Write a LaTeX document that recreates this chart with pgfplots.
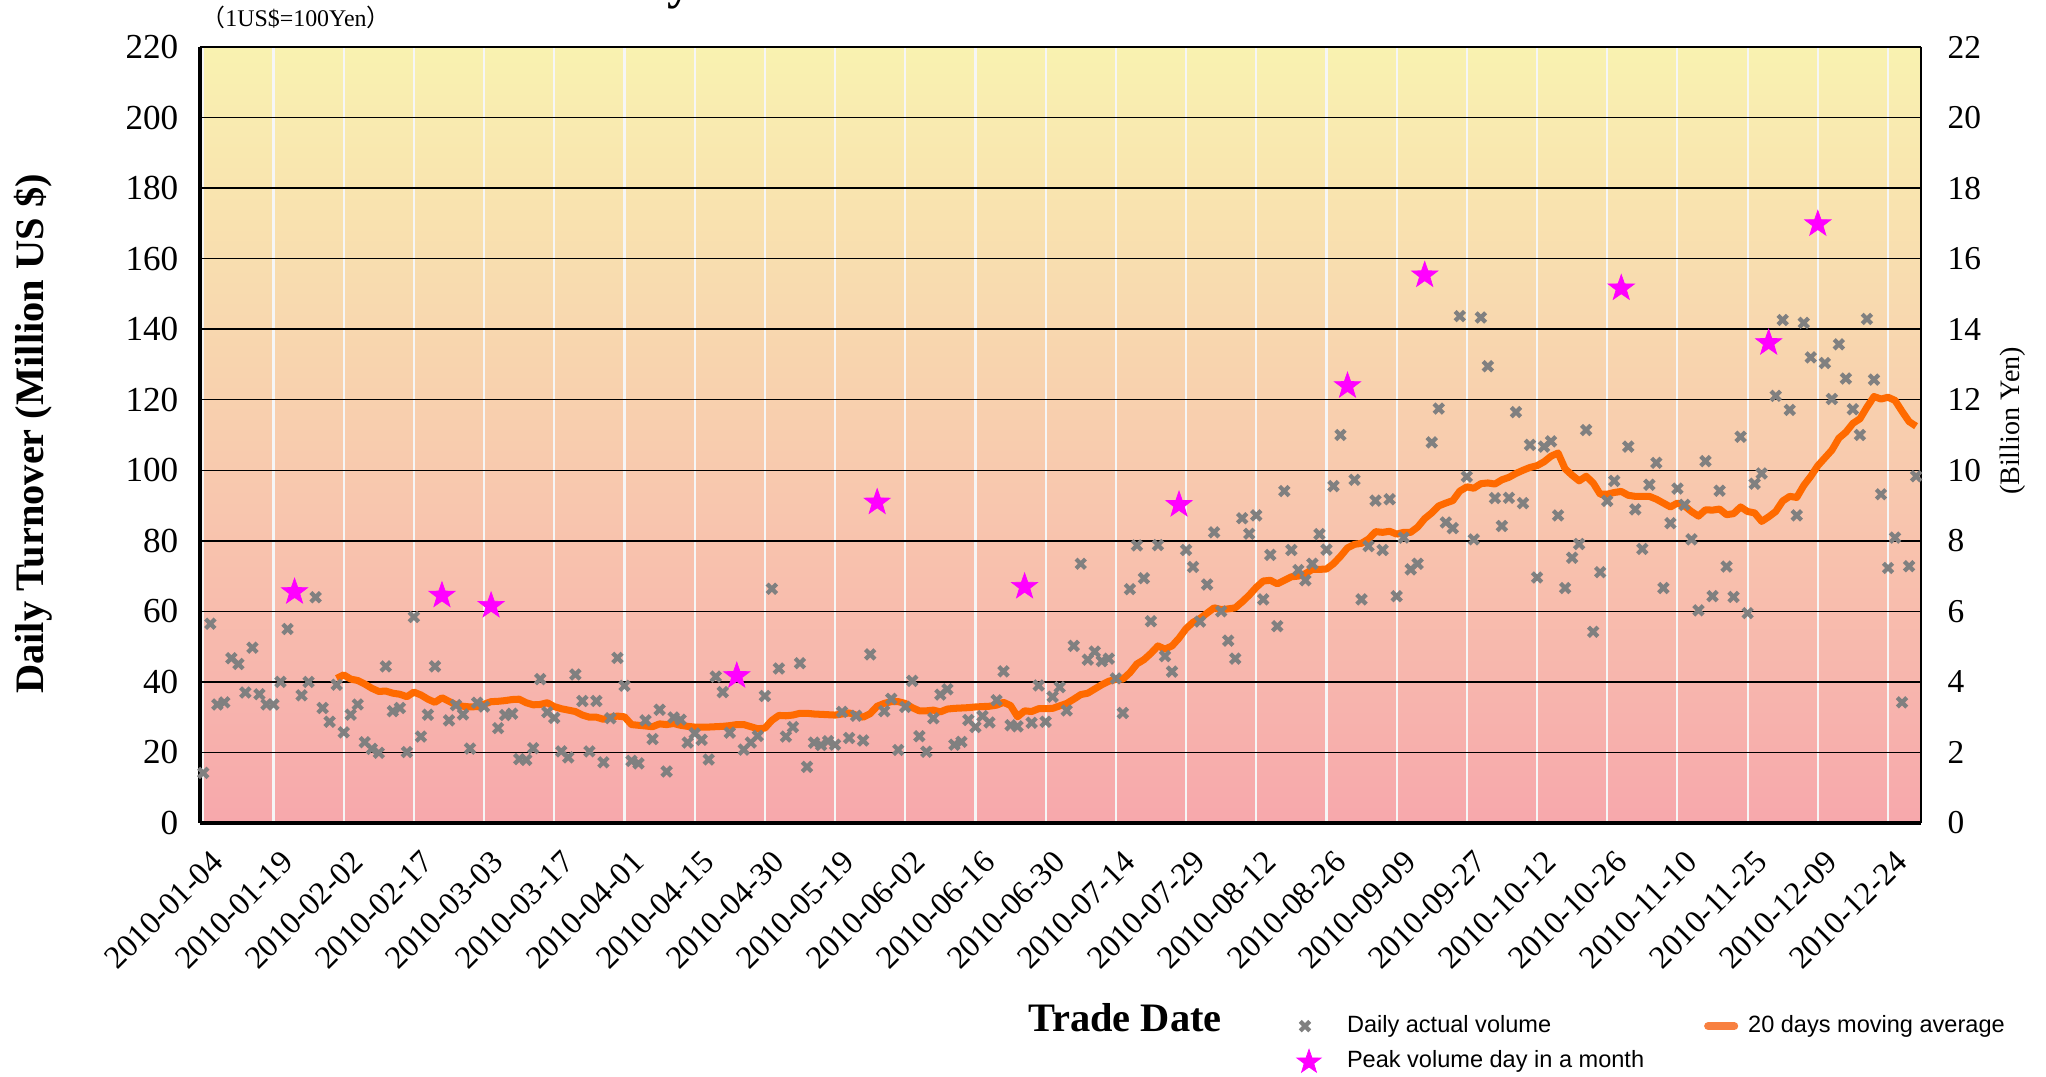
\documentclass[border=0pt]{standalone}
\usepackage{pgfplots}
\pgfplotsset{compat=1.18}
\usepackage{fontspec}
\setmainfont{Liberation Serif}
\newfontfamily\legfont{Liberation Sans}
\newfontfamily\cjk{Noto Sans CJK JP}
\definecolor{starmag}{RGB}{255,0,255}
\definecolor{maorange}{RGB}{255,106,0}
\definecolor{legorange}{RGB}{248,128,64}
\definecolor{dgray}{RGB}{128,128,128}
\definecolor{bgtop}{RGB}{249,242,176}
\definecolor{bgbot}{RGB}{247,168,172}
\definecolor{vgrid}{RGB}{246,246,246}

\pgfdeclareplotmark{fstar}{%
  \pgfpathmoveto{\pgfpointpolar{90}{\pgfplotmarksize}}%
  \pgfpathlineto{\pgfpointpolar{126}{0.4*\pgfplotmarksize}}%
  \pgfpathlineto{\pgfpointpolar{162}{\pgfplotmarksize}}%
  \pgfpathlineto{\pgfpointpolar{198}{0.4*\pgfplotmarksize}}%
  \pgfpathlineto{\pgfpointpolar{234}{\pgfplotmarksize}}%
  \pgfpathlineto{\pgfpointpolar{270}{0.4*\pgfplotmarksize}}%
  \pgfpathlineto{\pgfpointpolar{306}{\pgfplotmarksize}}%
  \pgfpathlineto{\pgfpointpolar{342}{0.4*\pgfplotmarksize}}%
  \pgfpathlineto{\pgfpointpolar{18}{\pgfplotmarksize}}%
  \pgfpathlineto{\pgfpointpolar{54}{0.4*\pgfplotmarksize}}%
  \pgfpathclose
  \pgfusepathqfillstroke
}

\pgfplotsset{
  legdaily/.style={legend image code/.code={\path[draw=none,fill=none] (0cm,-0.1cm) rectangle (0.47cm,0.1cm); \draw[##1] plot coordinates {(0.05cm,0cm)};}},
  legma/.style={legend image code/.code={\path[draw=none,fill=none] (0cm,-0.1cm) rectangle (0.43cm,0.1cm); \draw[##1, line width=2.3pt, line cap=round, color=legorange] (0.03cm,0cm) -- (0.29cm,0cm);}},
  legstar/.style={legend image code/.code={\path[draw=none,fill=none] (0cm,-0.1cm) rectangle (0.47cm,0.1cm); \draw[##1, mark size=3.6pt] plot coordinates {(0.09cm,0cm)};}},
}

\begin{document}
\begin{tikzpicture}
\begin{axis}[
  at={(2cm,2.54cm)}, anchor=south west,
  scale only axis, width=17.21cm, height=7.76cm,
  xmin=-0.47, xmax=244.7, ymin=0, ymax=220,
  axis line style={draw=none},
  tick style={draw=none},
  major tick length=0pt,
  xtick={0,10,...,240},
  xticklabels={2010-01-04,2010-01-19,2010-02-02,2010-02-17,2010-03-03,2010-03-17,2010-04-01,2010-04-15,2010-04-30,2010-05-19,2010-06-02,2010-06-16,2010-06-30,2010-07-14,2010-07-29,2010-08-12,2010-08-26,2010-09-09,2010-09-27,2010-10-12,2010-10-26,2010-11-10,2010-11-25,2010-12-09,2010-12-24},
  ytick={0,20,...,220},
  grid=major,
  x grid style={color=vgrid, line width=0.6pt},
  y grid style={color=black, line width=0.4pt},
  axis background/.style={top color=bgtop, bottom color=bgbot},
  tick label style={font=\fontsize{10}{12}\selectfont},
  /pgf/number format/assume math mode=true,
  yticklabel style={anchor=east, inner sep=0pt, xshift=-0.21cm},
  xticklabel style={xshift=0.06cm, yshift=-0.25cm, rotate=45, anchor=north east, inner sep=0pt, font=\fontsize{9.2}{11}\selectfont},
  clip=false,
  legend columns=2,
  legend cell align=left,
  legend style={draw=none, fill=none, inner sep=0pt, outer sep=0pt,
    at={(axis description cs:0.6374,-0.2474)}, anchor=north west,
    font=\legfont\fontsize{6.7}{8}\selectfont,
    nodes={inner sep=0pt},
    row sep=0.12cm,
    /tikz/every even column/.append style={column sep=0.60cm}},
]
\addplot[only marks, mark=x, mark size=1.9pt, color=dgray, line width=1.2pt, legdaily]
coordinates {
(0,14.2)(1,56.5)(2,33.6)(3,34.2)(4,46.7)(5,45.1)(6,37.0)(7,49.7)(8,36.5)(9,33.6)
(10,33.6)(11,40.0)(12,55.0)(14,36.2)(15,40.0)(16,64.0)(17,32.6)(18,28.7)(19,39.2)
(20,25.7)(21,30.7)(22,33.6)(23,22.9)(24,21.0)(25,19.9)(26,44.4)(27,31.7)(28,32.6)(29,20.1)
(30,58.4)(31,24.5)(32,30.7)(33,44.4)(35,29.1)(36,33.4)(37,30.8)(38,21.1)(39,34.1)
(40,33.0)(42,26.9)(43,30.6)(44,31.0)(45,18.1)(46,17.9)(47,21.2)(48,40.8)(49,31.4)
(50,29.8)(51,20.3)(52,18.6)(53,42.1)(54,34.6)(55,20.3)(56,34.6)(57,17.2)(58,29.7)(59,46.8)
(60,38.9)(61,17.6)(62,16.9)(63,29.1)(64,23.8)(65,32.1)(66,14.6)(67,29.9)(68,29.3)(69,22.8)
(70,25.4)(71,23.6)(72,18.0)(73,41.5)(74,37.1)(75,25.6)(77,20.8)(78,22.8)(79,24.7)
(80,36.0)(81,66.4)(82,43.8)(83,24.5)(84,27.2)(85,45.3)(86,15.9)(87,22.8)(88,22.1)(89,23.2)
(90,22.2)(91,31.5)(92,24.1)(93,30.4)(94,23.4)(95,47.8)(97,31.7)(98,35.2)(99,20.7)
(100,32.9)(101,40.3)(102,24.6)(103,20.2)(104,29.7)(105,36.4)(106,37.9)(107,22.2)(108,23.0)(109,29.2)
(110,27.2)(111,30.3)(112,28.5)(113,34.8)(114,43.0)(115,27.7)(116,27.4)(118,28.4)(119,39.0)
(120,28.7)(121,35.8)(122,38.5)(123,31.9)(124,50.2)(125,73.5)(126,46.3)(127,48.6)(128,45.9)(129,46.6)
(130,41.0)(131,31.2)(132,66.3)(133,78.7)(134,69.4)(135,57.2)(136,78.8)(137,47.3)(138,42.9)
(140,77.4)(141,72.6)(142,57.1)(143,67.6)(144,82.4)(145,60.0)(146,51.7)(147,46.6)(148,86.4)(149,82.0)
(150,87.2)(151,63.4)(152,76.0)(153,55.8)(154,94.1)(155,77.4)(156,71.7)(157,68.8)(158,73.5)(159,81.9)
(160,77.5)(161,95.5)(162,110.0)(164,97.3)(165,63.4)(166,78.5)(167,91.4)(168,77.4)(169,91.8)
(170,64.3)(171,80.9)(172,71.9)(173,73.5)(175,107.9)(176,117.5)(177,85.2)(178,83.6)(179,143.7)
(180,98.2)(181,80.4)(182,143.3)(183,129.5)(184,92.1)(185,84.2)(186,92.2)(187,116.5)(188,90.7)(189,107.2)
(190,69.6)(191,106.7)(192,108.2)(193,87.2)(194,66.6)(195,75.2)(196,79.1)(197,111.4)(198,54.2)(199,71.1)
(200,91.3)(201,97.0)(203,106.7)(204,88.9)(205,77.7)(206,95.9)(207,102.1)(208,66.6)(209,85.0)
(210,94.8)(211,90.2)(212,80.4)(213,60.3)(214,102.6)(215,64.3)(216,94.2)(217,72.7)(218,64.1)(219,109.5)
(220,59.5)(221,96.2)(222,99.1)(224,121.1)(225,142.6)(226,117.1)(227,87.2)(228,141.8)(229,132.0)
(231,130.4)(232,120.2)(233,135.7)(234,126.0)(235,117.3)(236,110.0)(237,142.9)(238,125.7)(239,93.2)
(240,72.3)(241,80.9)(242,34.2)(243,72.8)(244,98.3)
};
\addlegendentry{Daily actual volume}
\addplot[color=maorange, line width=2pt, line join=round, mark=none, legma]
coordinates {
(19,41.0)(20,42.0)(21,40.8)(22,40.4)(23,39.4)(24,38.2)(25,37.3)(26,37.4)(27,36.8)(28,36.5)(29,35.8)
(30,37.1)(31,36.3)(32,35.1)(33,34.2)(34,35.5)(35,34.5)(36,33.5)(37,33.1)(38,32.9)(39,33.0)
(40,33.7)(41,34.4)(42,34.5)(43,34.7)(44,35.0)(45,35.1)(46,34.1)(47,33.5)(48,33.6)(49,34.1)
(50,33.0)(51,32.4)(52,32.0)(53,31.6)(54,30.6)(55,30.0)(56,30.0)(57,29.4)(58,30.0)(59,30.3)
(60,30.1)(61,27.9)(62,27.7)(63,27.5)(64,27.3)(65,28.1)(66,27.9)(67,28.2)(68,27.7)(69,27.4)
(70,27.2)(71,27.2)(72,27.2)(73,27.3)(74,27.4)(75,27.6)(76,27.9)(77,27.9)(78,27.3)(79,26.7)
(80,26.9)(81,29.1)(82,30.5)(83,30.4)(84,30.6)(85,31.1)(86,31.1)(87,30.9)(88,30.8)(89,30.7)
(90,30.6)(91,30.9)(92,31.2)(93,30.6)(94,30.0)(95,31.0)(96,33.1)(97,33.9)(98,34.4)(99,34.4)
(100,33.9)(101,32.7)(102,31.8)(103,31.8)(104,32.0)(105,31.5)(106,32.3)(107,32.5)(108,32.6)(109,32.7)
(110,32.9)(111,33.0)(112,33.1)(113,33.4)(114,34.2)(115,33.3)(116,30.1)(117,31.8)(118,31.6)(119,32.4)
(120,32.4)(121,32.5)(122,33.2)(123,33.9)(124,35.1)(125,36.4)(126,36.8)(127,38.0)(128,39.2)(129,40.2)
(130,40.7)(131,40.8)(132,42.6)(133,45.1)(134,46.3)(135,48.1)(136,50.2)(137,49.3)(138,50.2)(139,52.4)
(140,55.1)(141,56.9)(142,58.0)(143,59.5)(144,61.0)(145,60.5)(146,60.7)(147,61.0)(148,62.7)(149,64.6)
(150,66.8)(151,68.6)(152,68.8)(153,67.8)(154,68.8)(155,69.8)(156,70.0)(157,70.7)(158,71.9)(159,71.9)
(160,72.0)(161,73.5)(162,75.6)(163,78.0)(164,79.0)(165,79.3)(166,80.5)(167,82.6)(168,82.4)(169,82.7)
(170,81.9)(171,82.4)(172,82.4)(173,83.9)(174,86.3)(175,87.9)(176,89.9)(177,90.7)(178,91.4)(179,94.1)
(180,95.3)(181,94.9)(182,96.2)(183,96.4)(184,96.1)(185,97.3)(186,98.0)(187,99.1)(188,100.0)(189,100.8)
(190,101.3)(191,102.4)(192,104.0)(193,104.9)(194,100.4)(195,98.6)(196,97.0)(197,98.3)(198,96.4)(199,93.2)
(200,93.2)(201,93.7)(202,94.0)(203,92.9)(204,92.6)(205,92.6)(206,92.6)(207,91.8)(208,90.7)(209,89.6)
(210,90.7)(211,89.9)(212,88.3)(213,87.0)(214,88.8)(215,88.7)(216,89.0)(217,87.4)(218,87.7)(219,89.6)
(220,88.3)(221,87.9)(222,85.5)(223,86.8)(224,88.3)(225,91.3)(226,92.6)(227,92.3)(228,95.7)(229,98.3)
(230,101.3)(231,103.5)(232,105.7)(233,109.1)(234,110.8)(235,113.3)(236,114.6)(237,117.9)(238,120.9)(239,120.2)
(240,120.7)(241,119.8)(242,116.7)(243,113.8)(244,112.5)
};
\addlegendentry{20 days moving average}
\addplot[only marks, mark=fstar, mark size=3.9pt, color=starmag, line width=0.2pt, legstar]
coordinates {
(13,65.5)(34,64.5)(41,61.6)(76,41.7)(96,90.9)(117,67.0)(139,90.2)(163,123.9)(174,155.3)(202,151.6)(223,136.1)(230,169.8)
};
\addlegendentry{Peak volume day in a month}
\draw[black, line width=0.95pt] (rel axis cs:0,0) -- (rel axis cs:0,1);
\draw[black, line width=0.95pt] (rel axis cs:0,0) -- (rel axis cs:1,0);
\draw[black, line width=0.6pt] (rel axis cs:1,0) -- (rel axis cs:1,1);
\end{axis}
\begin{axis}[
  at={(2cm,2.54cm)}, anchor=south west,
  scale only axis, width=17.21cm, height=7.76cm,
  xmin=-0.47, xmax=244.7, ymin=0, ymax=22,
  axis line style={draw=none}, tick style={draw=none}, major tick length=0pt,
  xtick=\empty, ytick={0,2,...,22},
  yticklabel pos=right,
  /pgf/number format/assume math mode=true,
  yticklabel style={anchor=west, inner sep=0pt, xshift=0.26cm, font=\fontsize{9.5}{11}\selectfont},
]
\addplot[draw=none, forget plot] coordinates {(0,0)};
\end{axis}
\node[rotate=90, font=\bfseries\fontsize{11.5}{13}\selectfont] at (0.33cm,6.43cm) {Daily Turnover (Million US \$)};
\node[rotate=90, font=\fontsize{8}{10}\selectfont] at (20.13cm,6.56cm) {(Billion Yen)};
\node[font=\bfseries\fontsize{11.5}{13}\selectfont] at (11.25cm,0.59cm) {Trade Date};
\node[font=\fontsize{6.8}{8}\selectfont] at (2.96cm,10.60cm) {{\cjk （}1US\$=100Yen{\cjk ）}};
\node[anchor=base, inner sep=0pt, font=\bfseries\fontsize{14}{16}\selectfont] at (6.80cm,10.78cm) {y};
\pgfresetboundingbox
\path (0,0) rectangle (20.46cm,10.77cm);
\end{tikzpicture}
\end{document}
